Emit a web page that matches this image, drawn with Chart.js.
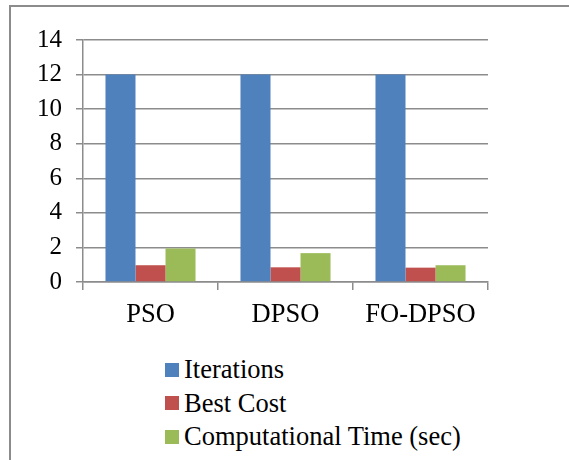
<!DOCTYPE html>
<html>
<head>
<meta charset="utf-8">
<script src="https://cdn.jsdelivr.net/npm/chart.js@4"></script>
<style>
  html, body { margin: 0; padding: 0; background: #fff; }
  #frame {
    position: absolute; left: 9px; top: 5px; width: 600px; height: 500px;
    border-left: 2px solid #8c8c8c; border-top: 2px solid #8c8c8c;
  }
  #wrap { position: absolute; left: 0; top: 0; width: 569px; height: 340px; }
  #legend {
    position: absolute; left: 165px; top: 353px;
    font-family: 'Liberation Serif', serif; font-size: 26.5px; color: #000;
  }
  #legend .row { display: flex; align-items: center; height: 33.5px; line-height: 33.5px; white-space: nowrap; }
  #legend .box { width: 14px; height: 14px; margin-right: 5px; }
</style>
</head>
<body>
<div id="frame"></div>
<div id="wrap"><canvas id="myChart"></canvas></div>
<div id="legend"></div>
<script>
const categories = ['PSO', 'DPSO', 'FO-DPSO'];
const iterations = [12, 12, 12];
const bestCost = [0.97, 0.85, 0.83];
const compTime = [1.94, 1.67, 0.97];
const seriesNames = ['Iterations', 'Best Cost', 'Computational Time (sec)'];
const seriesColors = ['#4F81BD', '#C0504D', '#9BBB59'];
const Y_MIN = 0;
const Y_MAX = 14;
const Y_STEP = 2;

const GRID = '#8c8c8c';
const FONT_X = { family: "'Liberation Serif', serif", size: 26.5 };
const FONT_Y = { family: "'Liberation Serif', serif", size: 25 };

let myChart;

const buildLegend = (chart) => {
  const legend = document.getElementById('legend');
  legend.innerHTML = '';
  chart.data.datasets.forEach(ds => {
    const row = document.createElement('div');
    row.className = 'row';
    const box = document.createElement('span');
    box.className = 'box';
    box.style.background = ds.backgroundColor;
    const txt = document.createElement('span');
    txt.textContent = ds.label;
    row.appendChild(box);
    row.appendChild(txt);
    legend.appendChild(row);
  });
};

const setup = () => {
  const ctxt = document.getElementById('myChart').getContext('2d');
  const allSeries = [iterations, bestCost, compTime];

  myChart = new Chart(ctxt, {
    type: 'bar',
    data: {
      labels: categories,
      datasets: allSeries.map((vals, i) => ({
        label: seriesNames[i],
        data: vals,
        backgroundColor: seriesColors[i],
        borderWidth: 0,
        categoryPercentage: 0.667,
        barPercentage: 1
      }))
    },
    options: {
      responsive: true,
      maintainAspectRatio: false,
      animation: false,
      layout: { padding: { top: 40, right: 81, left: 0, bottom: 0 } },
      plugins: { legend: { display: false }, tooltip: { enabled: false } },
      scales: {
        x: {
          grid: { offset: true, drawOnChartArea: false, color: GRID, lineWidth: 1.5, tickLength: 8 },
          border: { color: GRID, width: 1.5 },
          ticks: { color: '#000', font: FONT_X, padding: 9, maxRotation: 0 },
          afterFit: (s) => { s.height = 58; }
        },
        y: {
          min: Y_MIN,
          max: Y_MAX,
          ticks: { stepSize: Y_STEP, color: '#000', font: FONT_Y, padding: 14 },
          grid: { color: GRID, lineWidth: 1.5, tickLength: 7 },
          border: { color: GRID, width: 1.5 },
          afterFit: (s) => { s.width = 83; }
        }
      }
    }
  });
  buildLegend(myChart);
};

window.addEventListener('DOMContentLoaded', setup);
</script>
</body>
</html>
